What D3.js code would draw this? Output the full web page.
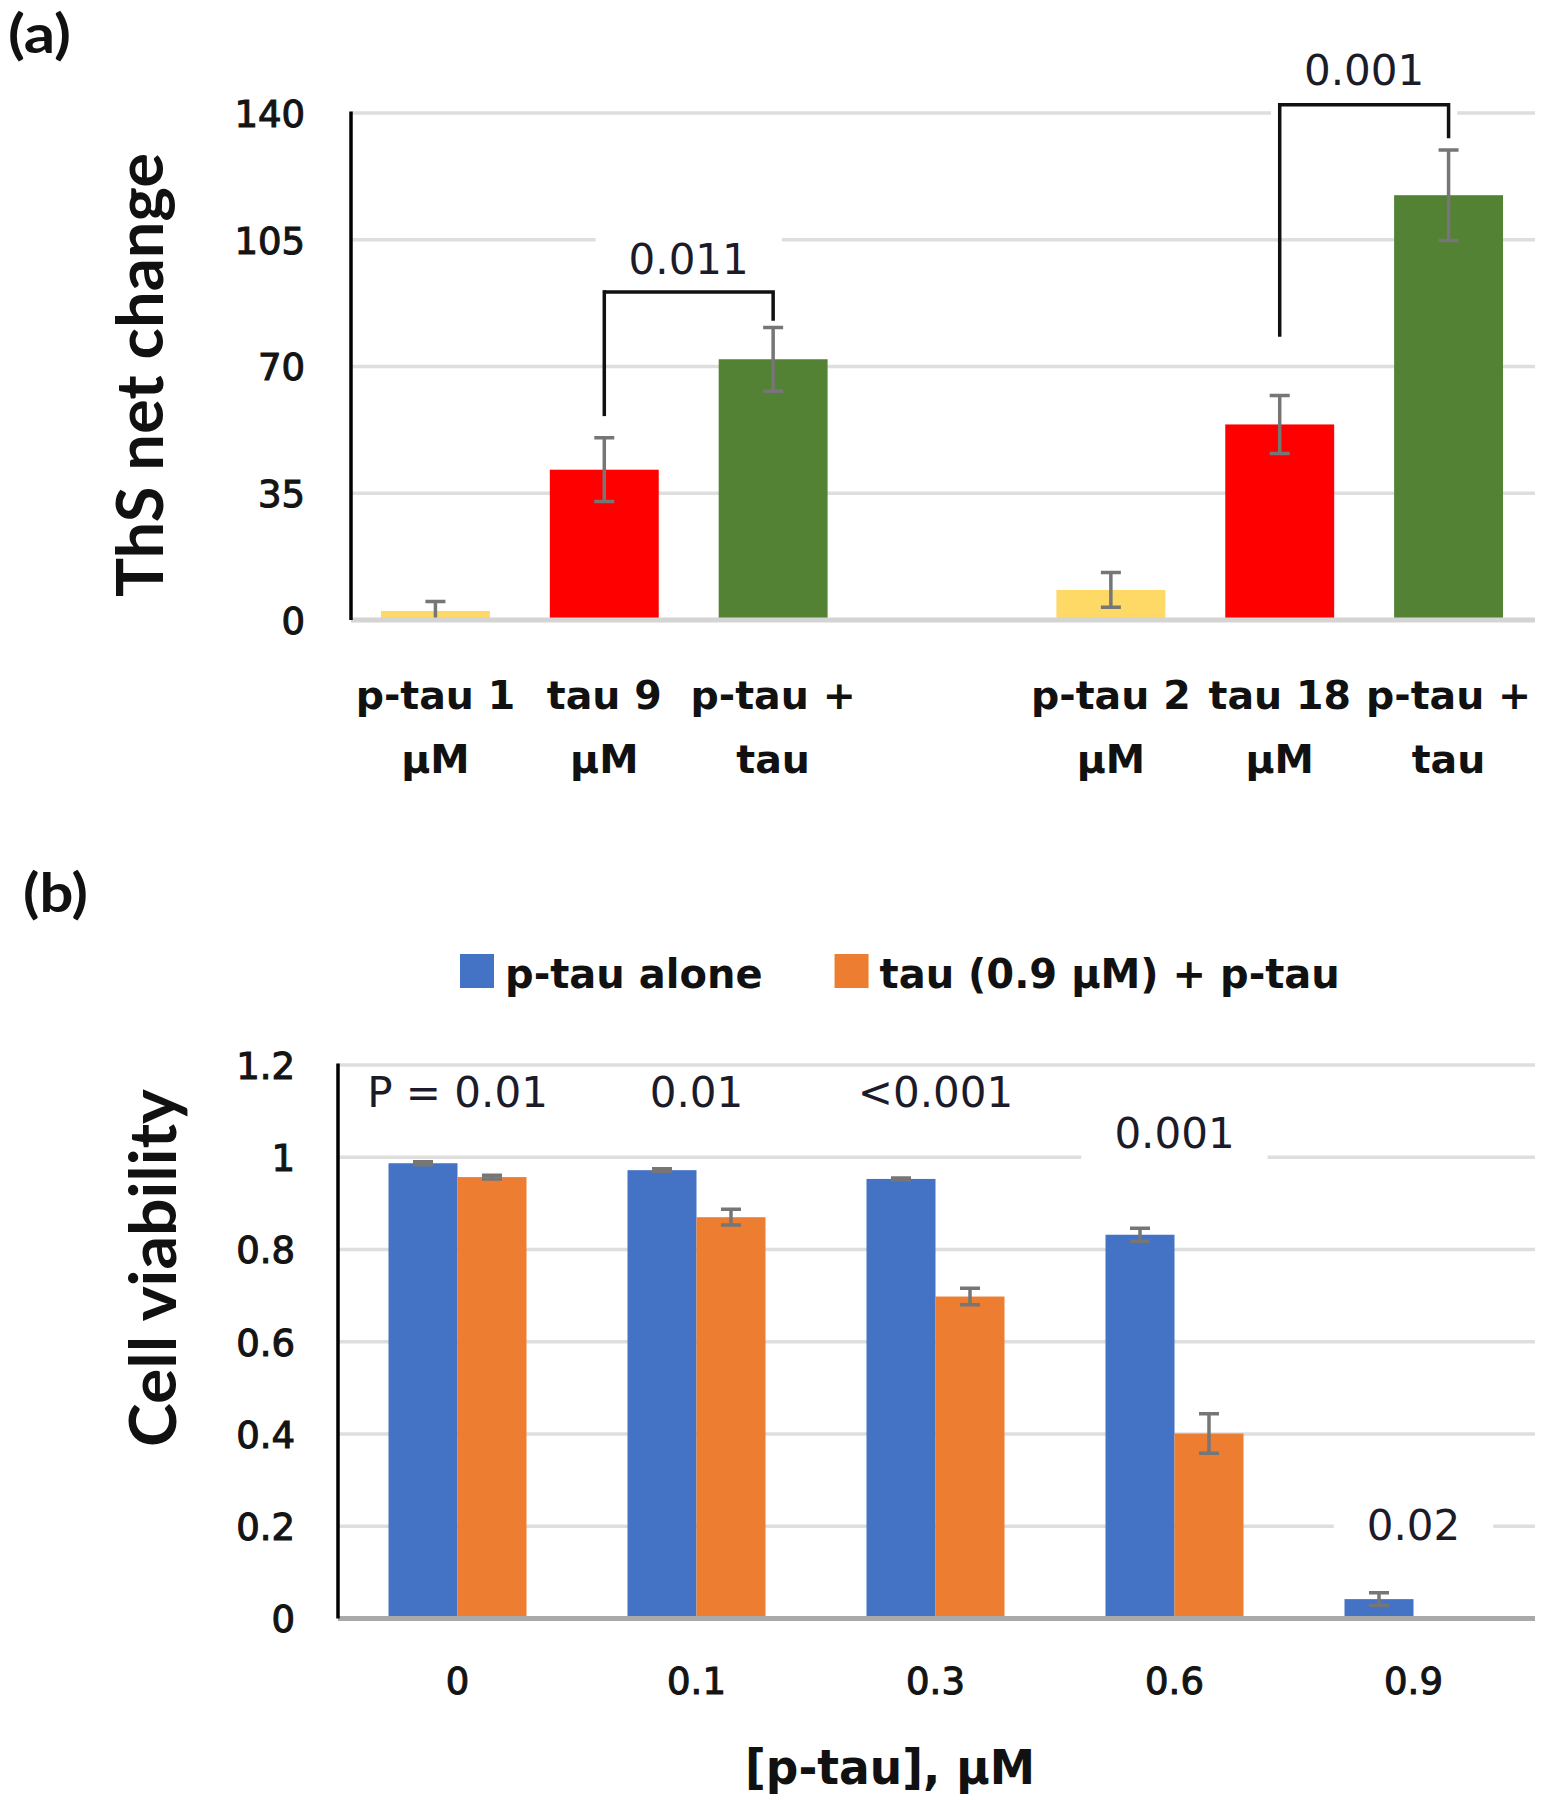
<!DOCTYPE html>
<html>
<head>
<meta charset="utf-8">
<script src="https://cdn.jsdelivr.net/npm/d3@7/dist/d3.min.js"></script>
<style>
	body { margin: 0; background: #fff; }
	svg { display: block; }
	.panel-tag { font-family: Lato, sans-serif; font-weight: 700; font-size: 54px; fill: #111; }
	.y-title { font-family: Lato, sans-serif; font-weight: 700; font-size: 65px; fill: #111; }
	.tick-label { font-family: 'DejaVu Sans', sans-serif; font-size: 37px; fill: #141414; stroke: #141414; stroke-width: 1.1; }
	.cat-label { font-family: 'DejaVu Sans', sans-serif; font-weight: 700; font-size: 39.5px; fill: #111; }
	.x-title { font-family: 'DejaVu Sans', sans-serif; font-weight: 700; font-size: 48px; fill: #111; }
	.legend-label { font-family: 'DejaVu Sans', sans-serif; font-weight: 700; font-size: 40px; fill: #111; }
	.p-label { font-family: 'DejaVu Sans', sans-serif; font-size: 42px; fill: #1b1b2a; }
	.grid-line { stroke: #dedede; stroke-width: 3.5; }
	.err-bar { stroke: #767676; stroke-width: 3.5; fill: none; }
	.bracket { stroke: #111; stroke-width: 3.5; fill: none; }
</style>
</head>
<body>
<svg id="chart" width="1541" height="1800"></svg>
<script>
"use strict";

// ---- panel (a): ThS net change ----
var catsA = ['ptau1', 'tau9', 'mix1', 'gap', 'ptau2', 'tau18', 'mix2'];
var kindsA = ['p-tau', 'tau', 'mix', null, 'p-tau', 'tau', 'mix'];
var labelsA = [['p-tau 1', 'µM'], ['tau 9', 'µM'], ['p-tau +', 'tau'], ['', ''],
	['p-tau 2', 'µM'], ['tau 18', 'µM'], ['p-tau +', 'tau']];
var valuesA = [2.5, 41.5, 72, null, 8.3, 54, 117.3];
var errorsA = [2.6, 8.8, 8.8, null, 4.8, 8, 12.5];
var ticksA = [0, 35, 70, 105, 140];
// significance brackets, levels in data units
var bracketsA = [
	{ from: 'tau9', to: 'mix1', top: 90.6, leftEnd: 56.3, rightEnd: 82.6, labelAt: 95.6, label: '0.011' },
	{ from: 'tau18', to: 'mix2', top: 142.3, leftEnd: 78.2, rightEnd: 133, labelAt: 147.7, label: '0.001' }
];

// ---- panel (b): cell viability ----
var dosesB = ['0', '0.1', '0.3', '0.6', '0.9'];
var seriesB = ['p-tau alone', 'tau (0.9 µM) + p-tau'];
var aloneB = [0.987, 0.972, 0.953, 0.832, 0.042];
var aloneErrB = [0.003, 0.003, 0.002, 0.014, 0.014];
var comboB = [0.957, 0.870, 0.698, 0.401, null];
var comboErrB = [0.004, 0.017, 0.018, 0.043, null];
var pLabelsB = ['P = 0.01', '0.01', '<0.001', '0.001', '0.02'];
var pLevelsB = [1.108, 1.108, 1.108, 1.021, 0.171];
var ticksB = [0, 0.2, 0.4, 0.6, 0.8, 1, 1.2];

var KIND_COLORS = { 'p-tau': '#FFD966', 'tau': '#FF0000', 'mix': '#548235' };
var SERIES_COLORS = ['#4472C4', '#ED7D31'];
var BRACKET_LEFT_COLOR = ['#111', '#7a7a7a'];

var svg = d3.select('#chart');

// white box + text used for p-value labels
function pLabel(g, x, y, text) {
	var box = g.append('rect').attr('fill', '#fff');
	var t = g.append('text')
		.attr('class', 'p-label')
		.attr('x', x)
		.attr('y', y)
		.attr('text-anchor', 'middle')
		.text(text);
	var w = t.node().getComputedTextLength() + 66;
	box.attr('x', x - w / 2).attr('y', y - 38).attr('width', w).attr('height', 70);
	return t;
}

function errorBar(g, x, y0, y1) {
	g.append('path')
		.attr('class', 'err-bar')
		.attr('d', 'M' + x + ',' + y0 + 'V' + y1 +
			'M' + (x - 10) + ',' + y0 + 'H' + (x + 10) +
			'M' + (x - 10) + ',' + y1 + 'H' + (x + 10));
}

function drawPanelA() {
	var left = 351, right = 1535, top = 113, bottom = 620;
	var g = svg.append('g').attr('class', 'panel-a');

	g.append('text').attr('class', 'panel-tag').attr('x', 8).attr('y', 53)
		.attr('textLength', 63).attr('lengthAdjust', 'spacingAndGlyphs').text('(a)');

	var x = d3.scaleBand().domain(catsA).range([left, 1533])
		.paddingInner(0.355).paddingOuter(0.1775);
	var y = d3.scaleLinear().domain([0, 140]).range([bottom, top]);

	// grid
	g.selectAll('.grid-line').data(ticksA.filter(function(d) { return d > 0; }))
		.enter().append('line')
		.attr('class', 'grid-line')
		.attr('x1', left).attr('x2', right)
		.attr('y1', function(d) { return y(d); })
		.attr('y2', function(d) { return y(d); });

	var labelG = g.append('g');

	// y tick labels
	var yAxis = d3.axisLeft(y).tickValues(ticksA).tickSize(0).tickPadding(46);
	var yAxisG = g.append('g').attr('transform', 'translate(' + left + ',0)').call(yAxis);
	yAxisG.select('.domain').remove();
	yAxisG.selectAll('text').attr('class', 'tick-label').attr('dy', '0.36em')
		.attr('font-family', null).attr('font-size', null).attr('fill', null);

	// bars
	var rows = catsA.map(function(c, i) {
		return { cat: c, kind: kindsA[i], value: valuesA[i], err: errorsA[i] };
	}).filter(function(d) { return d.value !== null; });

	g.selectAll('.bar').data(rows).enter().append('rect')
		.attr('class', 'bar')
		.attr('x', function(d) { return x(d.cat); })
		.attr('width', x.bandwidth())
		.attr('y', function(d) { return y(d.value); })
		.attr('height', function(d) { return y(0) - y(d.value); })
		.attr('fill', function(d) { return KIND_COLORS[d.kind]; });

	rows.forEach(function(d) {
		var cx = x(d.cat) + x.bandwidth() / 2;
		errorBar(g, cx, y(d.value + d.err), y(Math.max(0, d.value - d.err)));
	});

	// axis lines
	g.append('line').attr('x1', left).attr('x2', right).attr('y1', bottom).attr('y2', bottom)
		.attr('stroke', '#d4d4d4').attr('stroke-width', 5);
	g.append('line').attr('x1', left).attr('x2', left).attr('y1', top - 1.5).attr('y2', bottom)
		.attr('stroke', '#000').attr('stroke-width', 3.5);

	// brackets + p labels
	bracketsA.forEach(function(b, i) {
		var x0 = x(b.from) + x.bandwidth() / 2;
		var x1 = x(b.to) + x.bandwidth() / 2;
		pLabel(labelG, (x0 + x1) / 2, y(b.labelAt), b.label);
		g.append('line').attr('class', 'bracket')
			.attr('x1', x0).attr('x2', x0)
			.attr('y1', y(b.leftEnd)).attr('y2', y(b.top) - 1.75)
			.attr('stroke', BRACKET_LEFT_COLOR[i])
			.attr('stroke-width', i === 1 ? 4.5 : 3.5);
		g.append('path').attr('class', 'bracket')
			.attr('d', 'M' + x0 + ',' + y(b.top) + 'H' + x1 + 'V' + y(b.rightEnd));
	});

	// category labels (two lines)
	catsA.forEach(function(c, i) {
		var cx = x(c) + x.bandwidth() / 2;
		var t = g.append('text').attr('class', 'cat-label').attr('text-anchor', 'middle');
		t.append('tspan').attr('x', cx).attr('y', 709).text(labelsA[i][0]);
		t.append('tspan').attr('x', cx).attr('y', 773).text(labelsA[i][1]);
	});

	g.append('text').attr('class', 'y-title')
		.attr('transform', 'translate(163,375) rotate(-90)')
		.attr('text-anchor', 'middle')
		.attr('textLength', 444).attr('lengthAdjust', 'spacingAndGlyphs')
		.text('ThS net change');
}

function drawPanelB() {
	var left = 338, right = 1535, top = 1065, bottom = 1618.5;
	var g = svg.append('g').attr('class', 'panel-b');

	g.append('text').attr('class', 'panel-tag').attr('x', 23).attr('y', 912)
		.attr('textLength', 65).attr('lengthAdjust', 'spacingAndGlyphs').text('(b)');

	// legend
	var lx = 460;
	seriesB.forEach(function(s, i) {
		g.append('rect').attr('x', lx).attr('y', 954).attr('width', 34).attr('height', 34)
			.attr('fill', SERIES_COLORS[i]);
		var t = g.append('text').attr('class', 'legend-label').attr('x', lx + 45).attr('y', 988).text(s);
		lx += 45 + t.node().getComputedTextLength() + 72;
	});

	var x = d3.scaleBand().domain(dosesB).range([left, 1533])
		.paddingInner(0.4226).paddingOuter(0.2113);
	var xs = d3.scaleBand().domain([0, 1]).range([0, x.bandwidth()]);
	var y = d3.scaleLinear().domain([0, 1.2]).range([bottom, top]);

	g.selectAll('.grid-line').data(ticksB.filter(function(d) { return d > 0; }))
		.enter().append('line')
		.attr('class', 'grid-line')
		.attr('x1', left).attr('x2', right)
		.attr('y1', function(d) { return y(d); })
		.attr('y2', function(d) { return y(d); });

	var labelG = g.append('g');
	dosesB.forEach(function(d, i) {
		pLabel(labelG, x(d) + x.bandwidth() / 2, y(pLevelsB[i]), pLabelsB[i]);
	});

	var yAxis = d3.axisLeft(y).tickValues(ticksB).tickSize(0).tickPadding(43)
		.tickFormat(function(d) { return String(d); });
	var yAxisG = g.append('g').attr('transform', 'translate(' + left + ',0)').call(yAxis);
	yAxisG.select('.domain').remove();
	yAxisG.selectAll('text').attr('class', 'tick-label').attr('dy', '0.36em')
		.attr('font-family', null).attr('font-size', null).attr('fill', null);

	var series = [
		{ values: aloneB, errs: aloneErrB },
		{ values: comboB, errs: comboErrB }
	];
	series.forEach(function(s, si) {
		var rows = dosesB.map(function(d, i) {
			return { dose: d, value: s.values[i], err: s.errs[i] };
		}).filter(function(d) { return d.value !== null; });

		g.selectAll('.bar-s' + si).data(rows).enter().append('rect')
			.attr('class', 'bar-s' + si)
			.attr('x', function(d) { return x(d.dose) + xs(si); })
			.attr('width', xs.bandwidth())
			.attr('y', function(d) { return y(d.value); })
			.attr('height', function(d) { return y(0) - y(d.value); })
			.attr('fill', SERIES_COLORS[si]);

		rows.forEach(function(d) {
			var cx = x(d.dose) + xs(si) + xs.bandwidth() / 2;
			errorBar(g, cx, y(d.value + d.err), y(d.value - d.err));
		});
	});

	g.append('line').attr('x1', left).attr('x2', right).attr('y1', bottom).attr('y2', bottom)
		.attr('stroke', '#a9a9a9').attr('stroke-width', 5);
	g.append('line').attr('x1', left).attr('x2', left).attr('y1', top - 1.5).attr('y2', bottom)
		.attr('stroke', '#000').attr('stroke-width', 3.5);

	var xAxis = d3.axisBottom(x).tickSize(0).tickPadding(49);
	var xAxisG = g.append('g').attr('transform', 'translate(0,' + bottom + ')').call(xAxis);
	xAxisG.select('.domain').remove();
	xAxisG.selectAll('text').attr('class', 'tick-label')
		.attr('font-family', null).attr('font-size', null).attr('fill', null);

	g.append('text').attr('class', 'x-title')
		.attr('x', 890).attr('y', 1783.5)
		.attr('text-anchor', 'middle')
		.attr('textLength', 290).attr('lengthAdjust', 'spacingAndGlyphs')
		.text('[p-tau], µM');

	g.append('text').attr('class', 'y-title')
		.attr('transform', 'translate(176,1268) rotate(-90)')
		.attr('text-anchor', 'middle')
		.attr('textLength', 358).attr('lengthAdjust', 'spacingAndGlyphs')
		.text('Cell viability');
}

drawPanelA();
drawPanelB();
</script>
</body>
</html>
